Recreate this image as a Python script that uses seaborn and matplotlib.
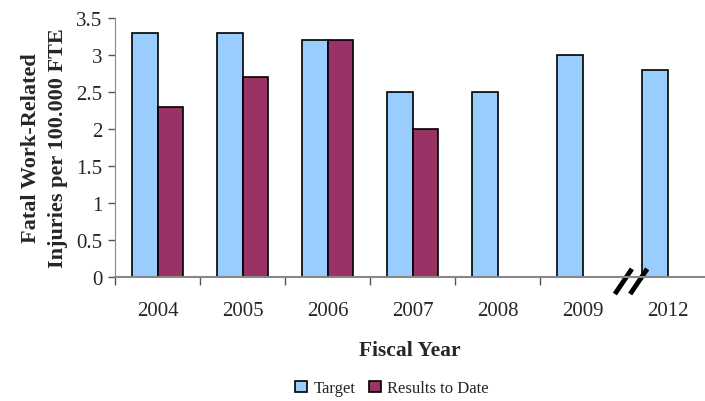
import pandas as pd
import numpy as np
import matplotlib
matplotlib.use("Agg")
import matplotlib.pyplot as plt
import seaborn as sns

years = ['2004', '2005', '2006', '2007', '2008', '2009', '2012']
target = [3.3, 3.3, 3.2, 2.5, 2.5, 3.0, 2.8]
results = [2.3, 2.7, 3.2, 2.0, np.nan, np.nan, np.nan]

df = pd.DataFrame({
    'Year': years * 2,
    'Value': target + results,
    'Series': ['Target'] * len(years) + ['Results to Date'] * len(years),
})

sns.set_style('white')
plt.rcParams['font.family'] = ['Liberation Serif', 'DejaVu Serif']

fig = plt.figure(figsize=(7.05, 4.02), dpi=100)
ax = fig.add_axes([115 / 705, 124 / 402, 590 / 705, 259 / 402])

sns.barplot(data=df, x='Year', y='Value', hue='Series', ax=ax,
            palette=['#99CCFF', '#993366'], width=0.6,
            edgecolor='black', linewidth=1.2, errorbar=None, saturation=1)

ax.set_ylim(0, 3.5)
ax.set_xlim(-0.5, 6.44)
ax.set_yticks(np.arange(0, 3.51, 0.5))
ax.set_yticklabels(['0', '0.5', '1', '1.5', '2', '2.5', '3', '3.5'])
ax.tick_params(axis='y', labelsize=15, length=5, width=1, color='#555555',
               left=True, direction='out', pad=4)
ax.tick_params(axis='x', which='major', labelsize=15, length=0, pad=17)
ax.set_xticks([-0.5, 0.5, 1.5, 2.5, 3.5, 4.5], minor=True)
ax.tick_params(axis='x', which='minor', length=6, width=1, color='#555555',
               bottom=True, direction='out')

for s in ['top', 'right']:
    ax.spines[s].set_visible(False)
ax.spines['left'].set_color('#888888')
ax.spines['bottom'].set_color('#888888')
ax.spines['bottom'].set_linewidth(1.5)

ax.set_xlabel('Fiscal Year', fontsize=15.5, fontweight='bold', labelpad=15)
ax.set_ylabel('Fatal Work-Related\nInjuries per 100.000 FTE', fontsize=16,
              fontweight='bold', labelpad=6, linespacing=1.45)

# axis break marks between 2009 and 2012
for x0 in [5.38, 5.56]:
    ax.plot([x0, x0 + 0.2], [-0.23, 0.11], color='black', lw=3.5,
            clip_on=False, solid_capstyle='butt')

ax.legend(loc='center', bbox_to_anchor=(0.47, -0.43), ncol=2, frameon=False,
          fontsize=12, handlelength=0.7, handleheight=0.7, handletextpad=0.4,
          columnspacing=0.8, borderpad=0.2)

fig.savefig('out.png', dpi=100)
